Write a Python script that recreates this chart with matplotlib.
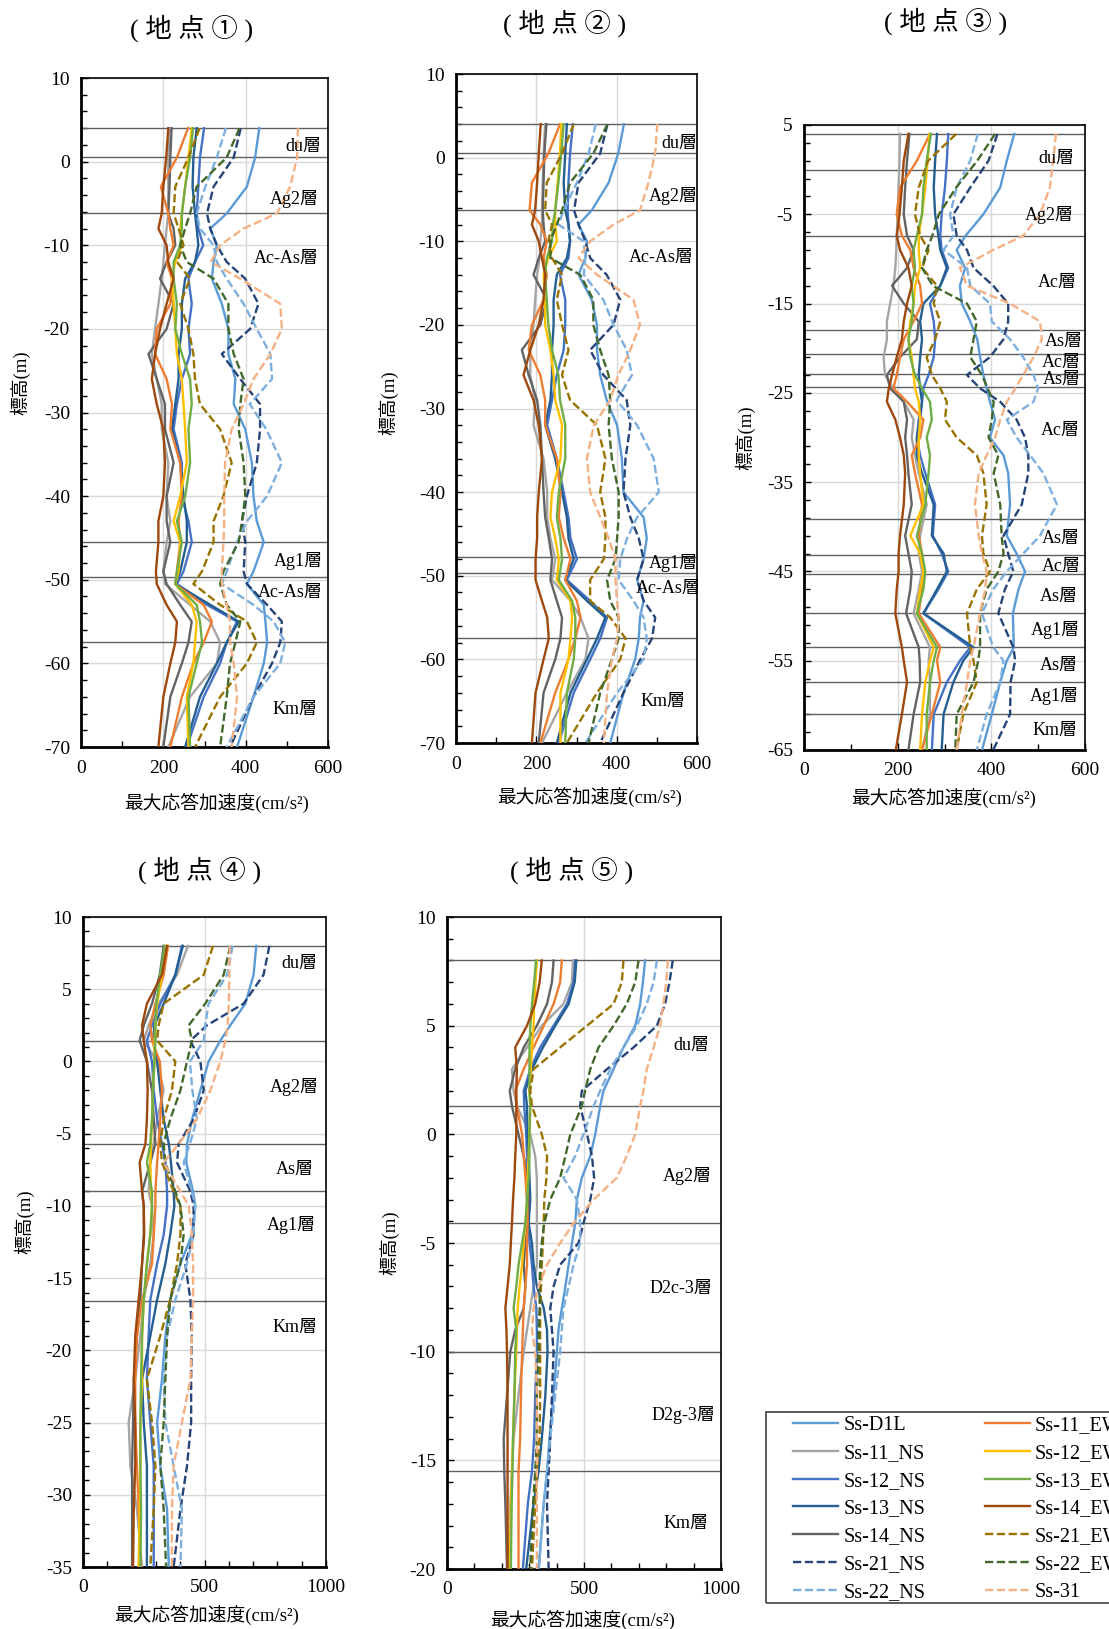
import matplotlib
matplotlib.use("Agg")
import matplotlib.pyplot as plt
from matplotlib.patches import Rectangle
import numpy as np

plt.rcParams['font.family'] = ['Liberation Serif', 'Noto Sans CJK JP']
plt.rcParams['axes.unicode_minus'] = False

names = ["Ss-D1L", "Ss-11_NS", "Ss-12_NS", "Ss-13_NS", "Ss-14_NS", "Ss-21_NS", "Ss-22_NS",
         "Ss-11_EW", "Ss-12_EW", "Ss-13_EW", "Ss-14_EW", "Ss-21_EW", "Ss-22_EW", "Ss-31"]
colors = ['#5B9BD5', '#A5A5A5', '#4472C4', '#255E91', '#636363', '#264478', '#7CAFDD',
          '#ED7D31', '#FFC000', '#70AD47', '#9E480E', '#997300', '#43682B', '#F4B183']
dashed = [False, False, False, False, False, True, True,
          False, False, False, False, True, True, True]

# ---- 地点① ----
elev1 = [4, 0.5, -3, -6.2, -8, -10, -12, -14, -17, -20, -23, -26, -29, -32, -36, -40,
         -43, -45.5, -49, -50.5, -53, -55, -57.5, -60, -64, -70]
acc1 = [
    [433, 423, 403, 354, 314, 330, 322, 318, 342, 358, 358, 375, 371, 399, 415, 419, 427, 444, 419, 403, 444, 448, 452, 444, 419, 379],
    [216, 212, 212, 212, 208, 204, 200, 196, 188, 180, 172, 184, 196, 196, 212, 208, 217, 208, 200, 204, 265, 314, 338, 330, 265, 212],
    [299, 289, 285, 281, 285, 297, 277, 261, 269, 261, 265, 245, 233, 225, 245, 245, 261, 269, 249, 233, 306, 379, 354, 338, 298, 257],
    [281, 273, 271, 277, 281, 285, 277, 253, 245, 245, 237, 237, 229, 221, 241, 249, 257, 257, 241, 229, 314, 383, 354, 330, 289, 253],
    [220, 217, 215, 212, 225, 229, 208, 192, 225, 208, 164, 184, 204, 204, 225, 208, 208, 217, 200, 208, 241, 269, 261, 245, 217, 200],
    [388, 371, 322, 306, 314, 330, 354, 399, 431, 411, 342, 387, 435, 435, 427, 403, 391, 399, 395, 403, 452, 488, 484, 464, 419, 362],
    [352, 330, 302, 281, 289, 322, 330, 354, 395, 427, 460, 464, 410, 450, 488, 452, 403, 379, 354, 342, 419, 468, 496, 484, 419, 354],
    [260, 233, 194, 212, 217, 225, 208, 221, 217, 184, 180, 208, 221, 217, 241, 245, 237, 241, 233, 229, 298, 318, 298, 273, 245, 217],
    [269, 261, 253, 245, 241, 245, 229, 221, 225, 229, 233, 245, 249, 253, 257, 241, 225, 241, 237, 229, 269, 281, 277, 273, 257, 261],
    [272, 265, 253, 245, 245, 241, 225, 225, 233, 229, 245, 265, 269, 261, 265, 253, 233, 245, 233, 229, 281, 289, 294, 281, 261, 265],
    [212, 207, 200, 196, 188, 208, 212, 225, 208, 192, 180, 172, 184, 200, 204, 200, 188, 188, 182, 184, 208, 233, 229, 217, 200, 188],
    [288, 261, 229, 225, 237, 249, 233, 265, 241, 261, 273, 277, 289, 338, 366, 346, 322, 322, 294, 273, 338, 403, 427, 403, 338, 277],
    [385, 354, 281, 265, 253, 241, 257, 322, 358, 358, 371, 395, 387, 383, 395, 399, 391, 383, 346, 338, 354, 387, 375, 362, 354, 338],
    [527, 525, 508, 476, 395, 338, 315, 387, 484, 488, 460, 419, 395, 366, 350, 348, 348, 346, 342, 342, 354, 362, 362, 371, 379, 366],
]
layers1 = [4, 0.5, -6.2, -45.5, -49.7, -57.5]
lab1 = ["du層", "Ag2層", "Ac-As層", "Ag1層", "Ac-As層", "Km層"]
labz1 = [1.8, -4.5, -11.6, -47.8, -51.5, -65.5]
labx1 = [583, 578, 578, 587, 587, 575]

# ---- 地点② ----
elev2 = [4, 0.5, -3, -6.3, -8, -10, -12, -14, -17, -20, -23, -26, -29, -32, -36, -40,
         -43, -45.5, -48, -50.5, -53, -55, -57.5, -60, -64, -70]
acc2 = [
    [418, 404, 380, 338, 305, 326, 322, 305, 338, 351, 351, 359, 375, 401, 413, 417, 467, 475, 467, 451, 467, 458, 455, 446, 417, 384],
    [222, 218, 216, 214, 214, 210, 208, 202, 197, 193, 185, 185, 197, 193, 218, 227, 227, 235, 247, 239, 285, 310, 330, 322, 276, 214],
    [291, 284, 280, 278, 280, 284, 280, 259, 272, 272, 268, 251, 239, 227, 251, 268, 280, 285, 301, 276, 334, 376, 359, 334, 293, 256],
    [276, 272, 268, 272, 280, 284, 276, 251, 243, 243, 239, 239, 235, 222, 247, 264, 276, 280, 293, 272, 326, 372, 351, 326, 285, 251],
    [225, 220, 218, 216, 218, 222, 206, 193, 226, 210, 164, 181, 202, 210, 214, 218, 222, 231, 239, 235, 251, 264, 260, 247, 218, 206],
    [377, 359, 305, 294, 305, 322, 334, 375, 409, 392, 334, 367, 425, 434, 422, 417, 434, 455, 467, 451, 467, 496, 488, 459, 417, 359],
    [348, 330, 301, 268, 255, 318, 322, 318, 367, 392, 425, 438, 400, 451, 492, 505, 451, 426, 409, 405, 442, 467, 475, 467, 401, 322],
    [259, 230, 189, 183, 210, 226, 218, 226, 218, 189, 181, 210, 222, 222, 251, 260, 256, 268, 285, 272, 301, 310, 297, 280, 247, 210],
    [262, 259, 253, 247, 247, 251, 230, 218, 222, 222, 235, 243, 247, 264, 260, 239, 235, 247, 256, 251, 285, 289, 285, 280, 260, 260],
    [268, 262, 255, 247, 241, 239, 226, 222, 226, 230, 239, 255, 259, 272, 272, 256, 251, 260, 264, 256, 289, 297, 297, 293, 276, 272],
    [211, 206, 202, 197, 189, 206, 214, 222, 218, 206, 185, 168, 193, 206, 214, 206, 202, 202, 198, 198, 214, 227, 231, 218, 198, 189],
    [293, 264, 226, 222, 239, 230, 239, 264, 251, 264, 280, 264, 284, 351, 372, 359, 372, 372, 368, 334, 334, 384, 422, 409, 351, 276],
    [377, 342, 284, 264, 251, 235, 235, 309, 342, 342, 359, 380, 384, 380, 388, 405, 405, 401, 397, 376, 384, 405, 405, 388, 359, 330],
    [501, 496, 479, 458, 392, 334, 305, 351, 442, 458, 434, 404, 384, 343, 326, 334, 359, 380, 397, 397, 401, 405, 401, 388, 376, 368],
]
layers2 = [4, 0.5, -6.3, -47.7, -49.7, -57.4]
lab2 = ["du層", "Ag2層", "Ac-As層", "Ag1層", "Ac-As層", "Km層"]
labz2 = [1.7, -4.6, -11.9, -48.5, -51.5, -65.0]
labx2 = [602, 602, 593, 602, 610, 572]

# ---- 地点③ ----
elev3 = [4, 1, -2, -5, -7.4, -9, -11, -13, -15, -17, -19, -21, -23, -24.5, -26, -28, -30,
         -32, -34, -37.5, -41, -43, -45, -47, -49.7, -53.5, -55, -57.4, -61, -65]
acc3 = [
    [449, 433, 419, 383, 345, 326, 344, 333, 337, 355, 370, 376, 383, 390, 397, 408, 397, 426, 436, 440, 433, 454, 472, 458, 446, 448, 433, 419, 401, 380],
    [205, 204, 202, 200, 198, 197, 195, 191, 184, 177, 177, 170, 173, 191, 213, 234, 230, 237, 245, 262, 248, 245, 252, 245, 234, 269, 266, 269, 269, 252],
    [308, 305, 301, 294, 291, 294, 308, 291, 269, 277, 280, 277, 266, 255, 252, 245, 241, 248, 259, 280, 275, 294, 308, 287, 255, 355, 333, 305, 277, 273],
    [284, 280, 277, 280, 287, 291, 305, 291, 255, 248, 252, 248, 245, 248, 252, 248, 241, 241, 252, 277, 273, 298, 305, 284, 255, 362, 340, 319, 298, 294],
    [225, 220, 216, 213, 220, 234, 220, 188, 213, 245, 241, 205, 177, 184, 213, 220, 216, 220, 223, 230, 216, 223, 230, 227, 218, 245, 247, 248, 234, 223],
    [413, 394, 355, 319, 326, 348, 362, 404, 436, 436, 426, 397, 348, 376, 419, 454, 472, 479, 479, 465, 426, 436, 447, 429, 415, 447, 451, 441, 440, 404],
    [371, 355, 326, 312, 319, 298, 348, 355, 397, 401, 440, 468, 490, 500, 490, 433, 454, 483, 511, 540, 504, 468, 433, 404, 380, 404, 426, 419, 390, 369],
    [269, 241, 205, 198, 209, 227, 234, 248, 252, 234, 213, 205, 198, 191, 220, 255, 248, 230, 237, 252, 245, 252, 255, 252, 245, 291, 284, 291, 273, 252],
    [268, 264, 259, 252, 245, 245, 248, 237, 234, 227, 223, 230, 234, 237, 245, 248, 245, 245, 248, 255, 227, 248, 255, 248, 241, 277, 269, 259, 252, 248],
    [271, 262, 255, 252, 241, 234, 237, 230, 234, 230, 223, 227, 237, 252, 269, 273, 262, 269, 266, 259, 241, 252, 259, 255, 241, 284, 277, 269, 262, 262],
    [223, 213, 209, 204, 198, 205, 223, 230, 220, 213, 209, 198, 188, 181, 177, 195, 205, 213, 216, 213, 205, 202, 202, 198, 195, 209, 213, 220, 209, 196],
    [325, 265, 245, 237, 248, 266, 252, 284, 277, 291, 280, 262, 273, 291, 305, 301, 326, 369, 383, 390, 380, 383, 397, 369, 348, 355, 362, 369, 340, 326],
    [408, 370, 325, 288, 274, 262, 252, 275, 348, 369, 362, 355, 380, 392, 405, 401, 394, 415, 405, 419, 422, 426, 415, 390, 376, 376, 372, 362, 326, 323],
    [538, 532, 525, 504, 468, 404, 333, 348, 440, 504, 508, 490, 468, 451, 433, 419, 408, 390, 373, 365, 373, 380, 390, 387, 376, 362, 355, 348, 337, 326],
]
layers3 = [4, 0, -7.4, -18.0, -20.6, -22.9, -24.4, -39.1, -43.2, -45.3, -49.7, -53.5, -57.4, -61.0]
lab3 = ["du層", "Ag2層", "Ac層", "As層", "Ac層", "As層", "Ac層",
        "As層", "Ac層", "As層", "Ag1層", "As層", "Ag1層", "Km層"]
labz3 = [1.2, -5.1, -12.6, -19.3, -21.6, -23.5, -29.2,
         -41.3, -44.4, -47.8, -51.6, -55.5, -59.0, -62.8]
labx3 = [577, 577, 582, 596, 592, 592, 590, 590, 592, 584, 590, 584, 587, 584]

# ---- 地点④ ----
elev4 = [8, 6, 4, 2.5, 1.44, 0, -2, -4, -5.7, -7, -9, -10, -12, -14, -16.5, -19, -22, -25, -28, -31, -35]
acc4 = [
    [713, 702, 668, 606, 565, 517, 483, 449, 428, 425, 453, 462, 448, 401, 359, 339, 325, 305, 318, 346, 353],
    [432, 387, 311, 270, 250, 305, 332, 305, 291, 277, 270, 284, 291, 277, 250, 236, 215, 188, 195, 222, 243],
    [407, 380, 318, 284, 263, 284, 291, 305, 325, 339, 346, 346, 332, 305, 277, 270, 263, 277, 291, 291, 291],
    [411, 380, 332, 294, 288, 305, 318, 332, 353, 362, 373, 376, 359, 339, 305, 277, 243, 250, 263, 263, 263],
    [332, 316, 284, 250, 233, 263, 284, 291, 298, 277, 243, 250, 250, 243, 236, 222, 209, 206, 202, 202, 202],
    [767, 743, 661, 510, 442, 483, 497, 455, 394, 387, 442, 455, 455, 421, 442, 448, 445, 445, 428, 401, 373],
    [616, 593, 517, 503, 497, 440, 450, 469, 440, 414, 448, 462, 455, 428, 380, 346, 332, 339, 373, 407, 401],
    [350, 332, 298, 277, 284, 316, 325, 318, 311, 305, 298, 298, 291, 284, 243, 222, 215, 215, 222, 229, 236],
    [342, 325, 305, 298, 294, 294, 288, 284, 280, 277, 280, 284, 277, 263, 250, 243, 243, 236, 236, 233, 229],
    [336, 318, 302, 298, 298, 294, 288, 284, 277, 263, 284, 284, 277, 263, 250, 243, 239, 236, 236, 239, 236],
    [346, 325, 263, 243, 250, 263, 266, 263, 257, 233, 243, 250, 252, 243, 229, 215, 209, 215, 215, 209, 206],
    [535, 497, 332, 311, 305, 380, 366, 332, 318, 325, 373, 401, 401, 387, 359, 318, 263, 284, 298, 291, 277],
    [606, 579, 503, 435, 448, 428, 401, 359, 332, 339, 380, 401, 414, 401, 359, 346, 339, 332, 318, 332, 342],
    [604, 602, 600, 595, 586, 565, 524, 469, 394, 332, 401, 435, 448, 453, 453, 448, 442, 407, 373, 366, 366],
]
layers4 = [8, 1.44, -5.7, -9.0, -16.55]
lab4 = ["du層", "Ag2層", "As層", "Ag1層", "Km層"]
labz4 = [6.8, -1.8, -7.5, -11.3, -18.4]
labx4 = [966, 972, 950, 958, 966]

# ---- 地点⑤ ----
elev5 = [8, 7, 6, 5, 4, 3, 2, 1.3, 0, -1, -2, -3, -4.09, -5, -6, -7, -8, -9, -10, -12, -14, -15.5, -17, -20]
acc5 = [
    [723, 715, 705, 687, 644, 608, 571, 559, 541, 523, 492, 474, 468, 456, 444, 432, 419, 407, 401, 389, 374, 365, 353, 334],
    [460, 456, 425, 346, 292, 237, 243, 255, 304, 322, 328, 328, 328, 328, 328, 316, 304, 292, 280, 261, 243, 237, 231, 225],
    [468, 462, 438, 389, 340, 304, 280, 282, 289, 292, 289, 292, 298, 301, 310, 316, 326, 328, 328, 322, 318, 310, 295, 277],
    [472, 466, 444, 395, 350, 310, 286, 292, 294, 298, 301, 304, 298, 310, 316, 328, 353, 365, 367, 359, 346, 334, 316, 289],
    [389, 383, 365, 328, 280, 249, 229, 237, 261, 280, 292, 298, 294, 286, 280, 286, 280, 249, 231, 219, 207, 209, 213, 219],
    [824, 812, 796, 766, 681, 584, 492, 486, 511, 529, 537, 523, 498, 480, 413, 389, 377, 383, 389, 383, 377, 371, 365, 371],
    [766, 754, 729, 693, 644, 596, 559, 535, 498, 468, 425, 474, 486, 486, 462, 444, 425, 419, 413, 395, 377, 365, 353, 336],
    [419, 413, 389, 353, 316, 280, 249, 255, 274, 280, 286, 292, 294, 292, 292, 286, 280, 277, 274, 270, 267, 261, 261, 261],
    [328, 323, 318, 316, 310, 306, 301, 304, 301, 298, 294, 292, 286, 280, 274, 265, 258, 255, 253, 246, 241, 237, 233, 229],
    [325, 318, 310, 304, 301, 301, 301, 304, 301, 301, 298, 292, 286, 274, 261, 253, 243, 253, 249, 246, 241, 239, 236, 233],
    [346, 338, 322, 292, 249, 255, 253, 253, 253, 249, 246, 241, 237, 233, 229, 221, 213, 217, 219, 221, 221, 221, 221, 221],
    [644, 638, 608, 511, 413, 316, 304, 310, 346, 365, 363, 355, 353, 350, 346, 343, 340, 340, 340, 340, 338, 328, 322, 310],
    [699, 687, 656, 608, 553, 523, 504, 492, 450, 432, 413, 377, 355, 346, 340, 338, 338, 334, 334, 328, 328, 322, 314, 304],
    [806, 800, 790, 778, 754, 729, 717, 705, 687, 656, 620, 535, 462, 413, 365, 334, 316, 310, 322, 328, 328, 328, 328, 328],
]
layers5 = [8, 1.3, -4.09, -10.0, -15.5]
lab5 = ["du層", "Ag2層", "D2c-3層", "D2g-3層", "Km層"]
labz5 = [4.1, -1.9, -7.1, -12.9, -17.9]
labx5 = [959, 966, 970, 981, 956]

W, H = 1109, 1629
fig = plt.figure(figsize=(W / 100, H / 100), dpi=100)


def px_rect(l, t, r, b):
    return [l / W, 1 - b / H, (r - l) / W, (b - t) / H]


def draw(rect, elev, acc, layers, labs, labz, labx, xmax, xmaj, ylo, yhi, ymaj, ymin_step,
         title, title_xy, ylab_xy, xlab_xy):
    ax = fig.add_axes(rect)
    ax.set_xlim(0, xmax)
    ax.set_ylim(ylo, yhi)
    ax.set_xticks(np.arange(0, xmax + 1, xmaj))
    ax.set_xticks(np.arange(0, xmax + 1, 100), minor=True)
    ax.set_yticks(np.arange(ylo, yhi + 0.1, ymaj))
    ax.set_yticks(np.arange(ylo, yhi + 0.1, ymin_step), minor=True)
    ax.set_axisbelow(True)
    ax.grid(True, which='major', color='#d9d9d9', lw=1.0)
    ax.tick_params(which='both', direction='in', top=False, right=False, labelsize=14, width=1.0)
    ax.tick_params(which='major', length=5)
    ax.tick_params(which='minor', length=4)
    ax.tick_params(axis='x', pad=9)
    ax.tick_params(axis='y', pad=8)
    for s in ['left', 'bottom']:
        ax.spines[s].set_linewidth(2.0)
    for s in ['top', 'right']:
        ax.spines[s].set_linewidth(1.2)

    for z in layers:
        ax.axhline(z, color='#5f5f5f', lw=1.0, zorder=1)
    for i, name in enumerate(names):
        ls = (0, (3.5, 1.5)) if dashed[i] else '-'
        ax.plot(acc[i], elev, color=colors[i], lw=1.7, ls=ls, label=name, zorder=3)
    for t, z, x in zip(labs, labz, labx):
        ax.text(x, z, t, ha='right', va='center', fontsize=13, zorder=5)

    ax.set_ylabel("標高(m)", fontsize=13.5)
    ax.yaxis.set_label_coords(*ylab_xy)
    ax.set_xlabel("最大応答加速度(cm/s²)", fontsize=13.5)
    ax.xaxis.set_label_coords(*xlab_xy)
    fig.text(title_xy[0] / W, 1 - title_xy[1] / H, title, ha='center', va='center', fontsize=19)
    return ax


ax1 = draw(px_rect(81, 78, 328, 747), elev1, acc1, layers1, lab1, labz1, labx1,
           600, 200, -70, 10, 10, 2, "( 地 点 ① )", (192, 28), (-0.206, 0.544), (0.547, -0.069))
draw(px_rect(456, 74, 697, 743), elev2, acc2, layers2, lab2, labz2, labx2,
     600, 200, -70, 10, 10, 2, "( 地 点 ② )", (565, 23), (-0.237, 0.508), (0.556, -0.066))
draw(px_rect(804, 125, 1085, 750), elev3, acc3, layers3, lab3, labz3, labx3,
     600, 200, -65, 5, 10, 2, "( 地 点 ③ )", (946, 21), (-0.174, 0.50), (0.495, -0.061))
draw(px_rect(83, 917, 326, 1567), elev4, acc4, layers4, lab4, labz4, labx4,
     1000, 500, -35, 10, 5, 1, "( 地 点 ④ )", (200, 870), (-0.20, 0.532), (0.51, -0.058))
draw(px_rect(447, 917, 721, 1569), elev5, acc5, layers5, lab5, labz5, labx5,
     1000, 500, -20, 10, 5, 1, "( 地 点 ⑤ )", (572, 870), (-0.175, 0.50), (0.496, -0.063))

# legend box (runs off the right edge like the source)
fig.add_artist(Rectangle((766 / W, 1 - 1603 / H), (1140 - 766) / W, (1603 - 1412) / H,
                         transform=fig.transFigure, fill=False, ec='#404040', lw=1.2))
handles, labels = ax1.get_legend_handles_labels()
fig.legend(handles, labels, ncol=2, loc='upper left',
           bbox_to_anchor=(793 / W, 1 - 1416 / H), frameon=False, fontsize=14.5,
           handlelength=2.25, handletextpad=0.25, columnspacing=2.95,
           labelspacing=0.43, borderpad=0, borderaxespad=0)

fig.savefig("out.png", dpi=100)
